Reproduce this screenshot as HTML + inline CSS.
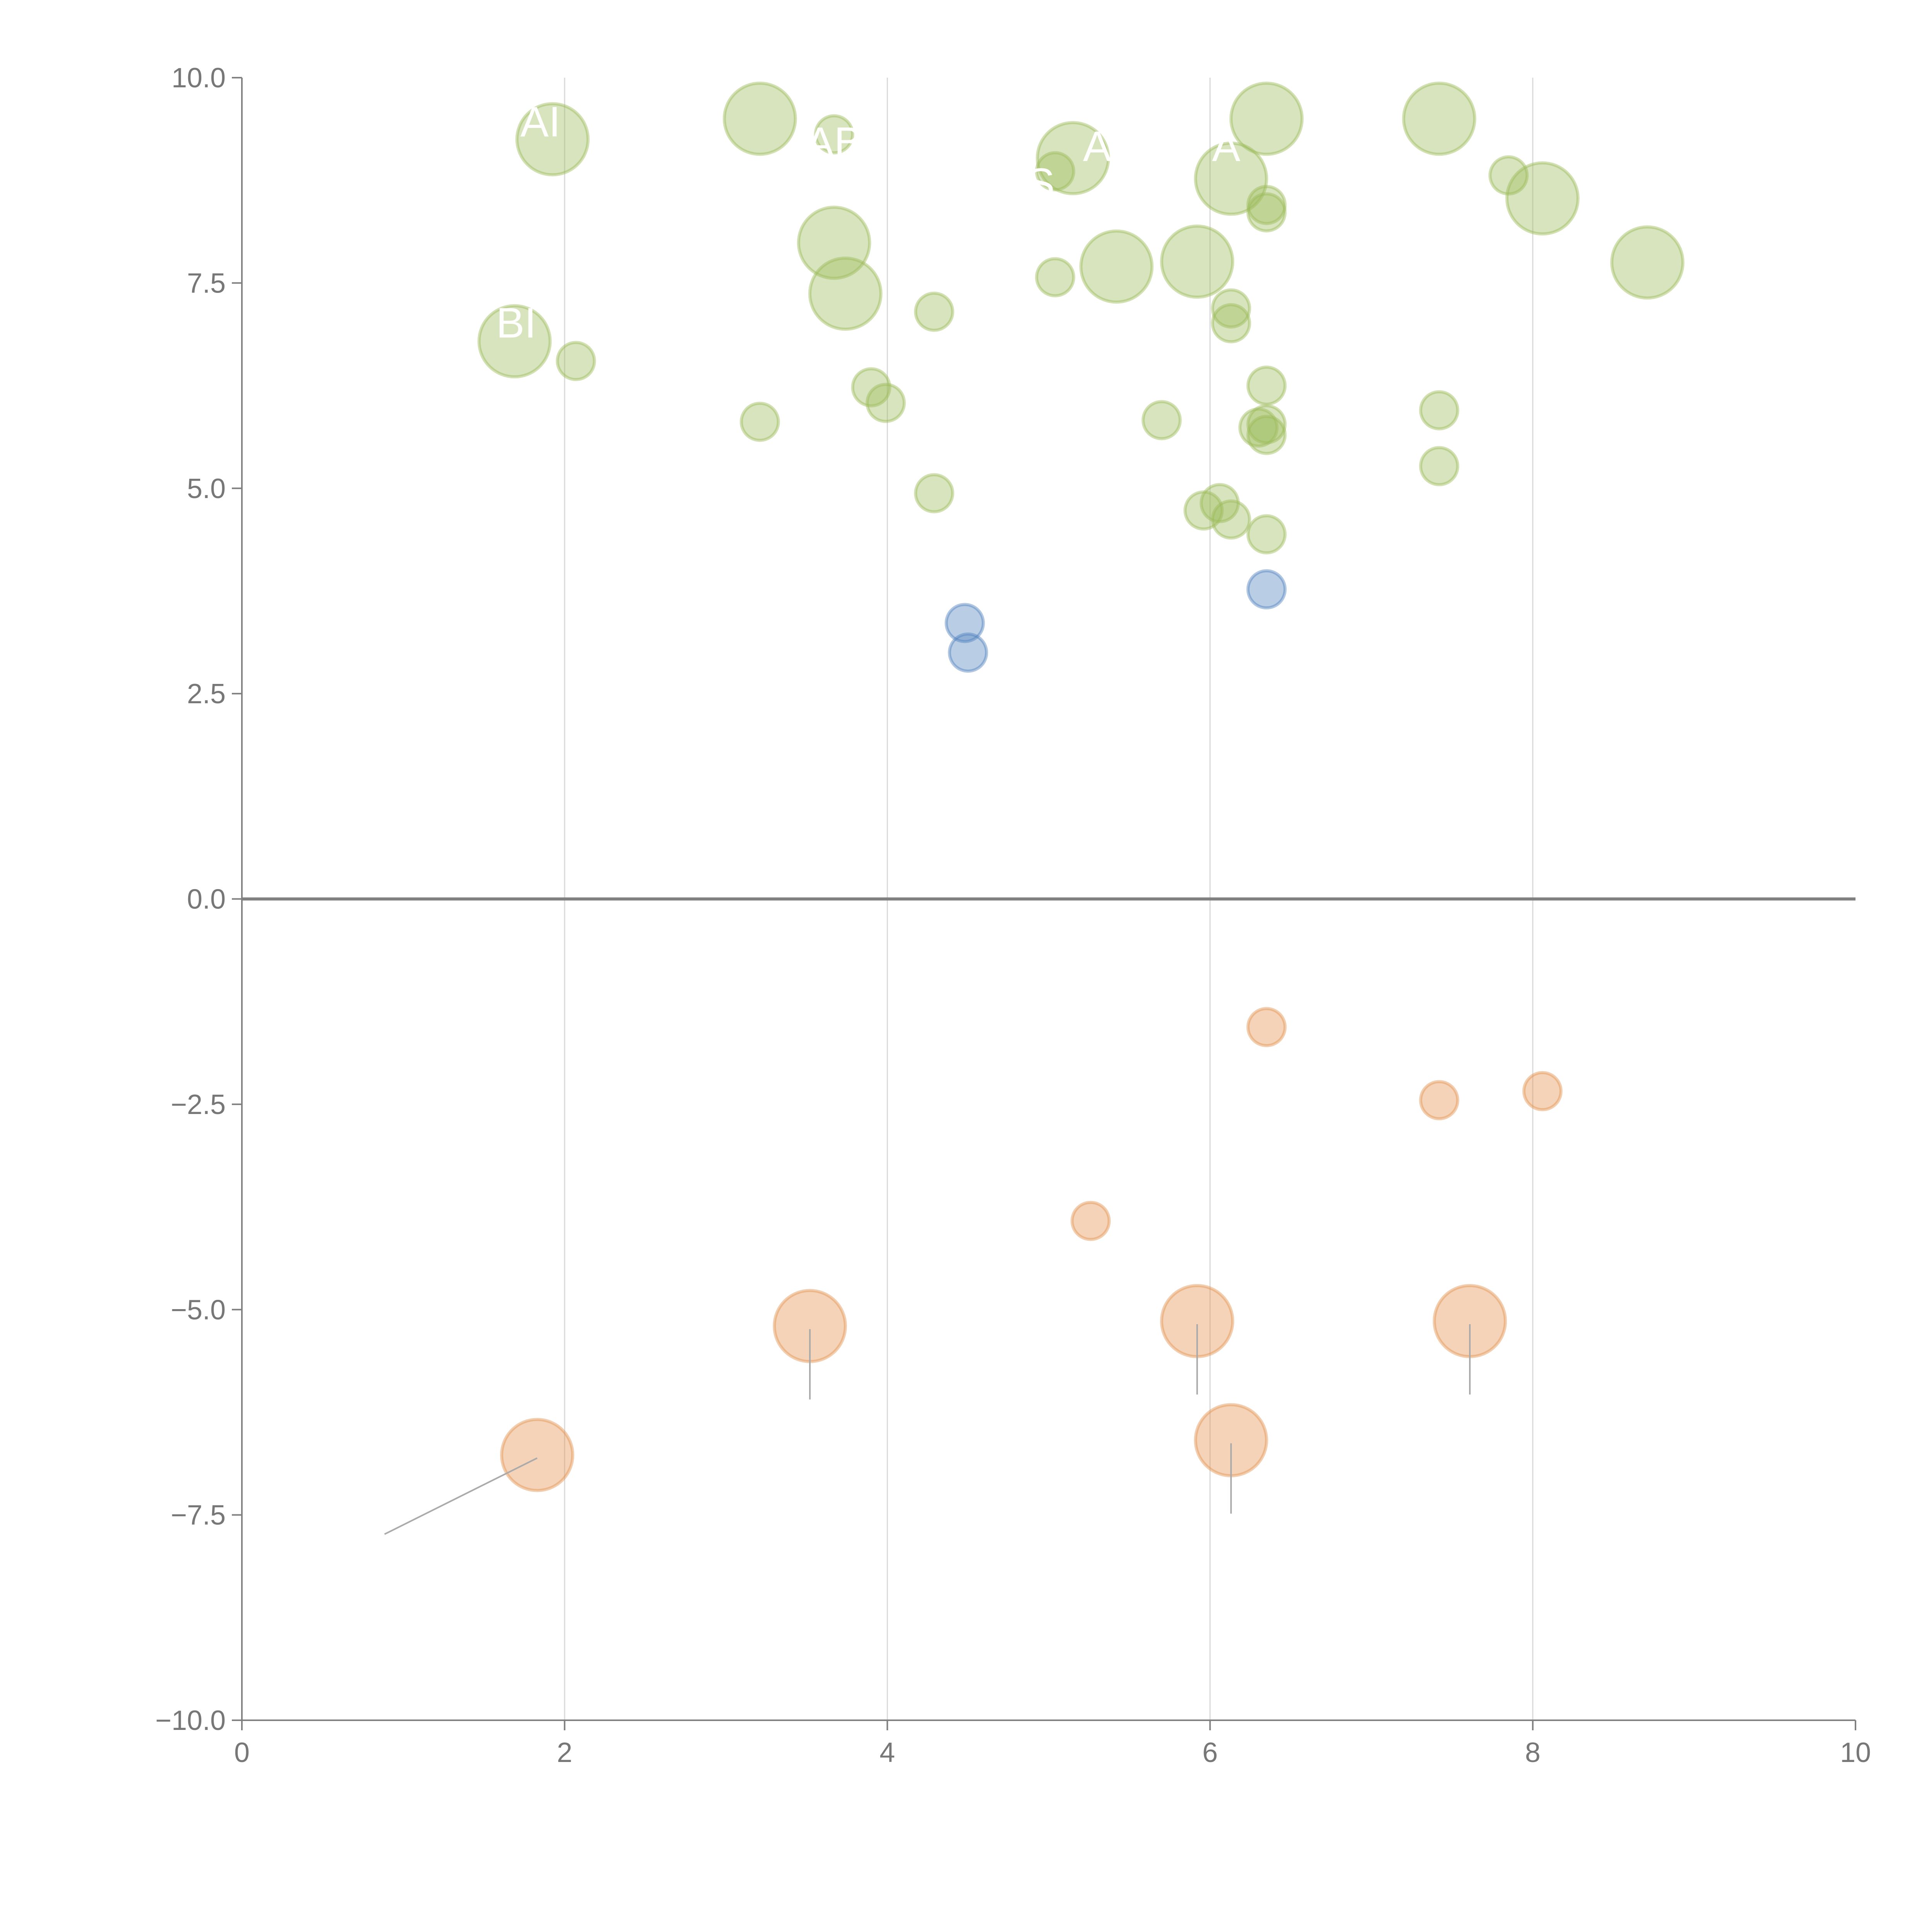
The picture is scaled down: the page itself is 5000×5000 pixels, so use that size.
<!DOCTYPE html>
<html><head><meta charset="utf-8"><style>html,body{margin:0;padding:0;background:#fff}svg{display:block}</style></head>
<body>
<svg id="chart" xmlns="http://www.w3.org/2000/svg" width="5000" height="5000" viewBox="0 0 5000 5000" font-family="Liberation Sans, Arial, sans-serif"></svg>
<script>
const greenX=[1.925,3.21,3.67,3.74,5.15,5.42,5.92,6.13,6.35,7.42,8.06,8.71,1.69,3.67,2.07,3.21,3.90,3.99,4.29,4.29,5.04,5.04,5.70,6.13,6.13,5.96,6.06,6.13,6.35,6.35,6.30,6.35,6.35,6.35,6.35,7.85,7.42,7.42];
const greenY=[9.25,9.50,7.99,7.37,9.02,7.70,7.76,8.77,9.50,9.50,8.53,7.75,6.79,9.31,6.55,5.81,6.23,6.04,7.15,4.94,7.57,8.86,5.83,7.19,7.01,4.73,4.82,4.62,4.44,6.25,5.74,5.78,5.65,8.45,8.36,8.81,5.95,5.27];
const greenS=[2,2,2,2,2,2,2,2,2,2,2,2,2,1,1,1,1,1,1,1,1,1,1,1,1,1,1,1,1,1,1,1,1,1,1,1,1,1];
const blueX=[4.48,4.50,6.35];
const blueY=[3.36,3.00,3.77];
const blueS=[1,1,1];
const orangeX=[6.35,7.42,8.06,5.26,3.52,5.92,7.61,6.13,1.83];
const orangeY=[-1.56,-2.45,-2.34,-3.92,-5.20,-5.14,-5.14,-6.59,-6.77];
const orangeS=[1,1,1,1,2,2,2,2,2];
const xTicks=[0,2,4,6,8,10];
const yTicks=[10,7.5,5,2.5,0,-2.5,-5,-7.5,-10];
const yTickLabels=["10.0","7.5","5.0","2.5","0.0","\u22122.5","\u22125.0","\u22127.5","\u221210.0"];

const NS="http://www.w3.org/2000/svg";
const svg=document.getElementById('chart');
const L=626,R=4802,T=201,B=4452;
const sx=v=>L+(v-0)/(10-0)*(R-L);
const sy=v=>B-(v+10)/20*(B-T);
const rad=s=>s===2?92:48;
function mk(tag,attrs,parent){const e=document.createElementNS(NS,tag);for(const k in attrs)e.setAttribute(k,attrs[k]);(parent||svg).appendChild(e);return e;}

for(const t of [2,4,6,8]){
  const g=mk('line',{x1:sx(t),x2:sx(t),y1:T,y2:B,stroke:'#d9d9d9','stroke-width':3});
  
  
}
const ya=mk('line',{x1:L,x2:L,y1:T,y2:B,stroke:'#808080','stroke-width':4});


const xa=mk('line',{x1:L,x2:R,y1:B,y2:B,stroke:'#808080','stroke-width':4});


const zl=mk('line',{x1:L,x2:R,y1:sy(0),y2:sy(0),stroke:'#808080','stroke-width':8});



yTicks.forEach((t,i)=>{
  const tk=mk('line',{x1:L-26,x2:L,y1:sy(t),y2:sy(t),stroke:'#808080','stroke-width':4});
  
  
  const tx=mk('text',{x:L-42,y:sy(t)+25,'text-anchor':'end','font-size':72,fill:'#777'});
  tx.textContent=yTickLabels[i];
  
  
});
xTicks.forEach(t=>{
  const tk=mk('line',{x1:sx(t),x2:sx(t),y1:B,y2:B+26,stroke:'#808080','stroke-width':4});
  
  
  const tx=mk('text',{x:sx(t),y:B+108,'text-anchor':'middle','font-size':72,fill:'#777'});
  tx.textContent=String(t);
  
  
});

function series(xs,ys,ss,fill,stroke,name){
  xs.forEach((x,i)=>{
    const c=mk('circle',{cx:sx(x),cy:sy(ys[i]),r:rad(ss[i]),fill:fill,'fill-opacity':0.4,stroke:stroke,'stroke-opacity':0.45,'stroke-width':8});
    
    
  });
}
series(greenX,greenY,greenS,'#9bbb59','#9bbb59','green-bubble');
series(blueX,blueY,blueS,'#4f81bd','#4f81bd','blue-bubble');
series(orangeX,orangeY,orangeS,'#e3924f','#e3924f','orange-bubble');

orangeX.forEach((x,i)=>{
  if(orangeS[i]!==2)return;
  const cx=sx(x),cy=sy(orangeY[i]);
  let x2=cx,y2=cy+190;
  if(x<2){x2=cx-395;y2=cy+205;}
  const l=mk('line',{x1:cx,y1:cy+8,x2:x2,y2:y2,stroke:'#aaa','stroke-width':4});
  
  
});

const labels=[["AI",1.85,9.45],["BI",1.7,7.0],["AB",3.67,9.2],["A",5.3,9.15],["A",6.1,9.15],["S",4.95,8.7]];
labels.forEach(([t,x,y])=>{
  const tx=mk('text',{x:sx(x),y:sy(y)+35,'text-anchor':'middle','font-size':110,fill:'#fff'});
  tx.textContent=t;
  
  
});
</script>
</body></html>
